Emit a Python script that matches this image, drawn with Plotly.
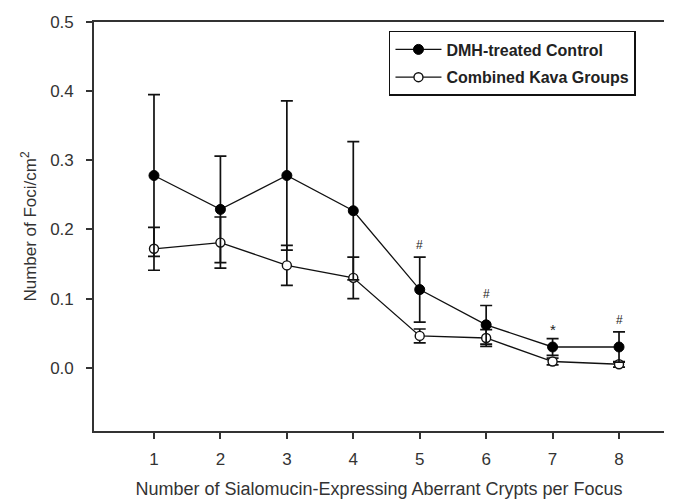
import plotly.graph_objects as go

crypts = [1, 2, 3, 4, 5, 6, 7, 8]
control_mean = [0.278, 0.229, 0.278, 0.227, 0.113, 0.062, 0.030, 0.030]
control_err = [0.117, 0.077, 0.108, 0.100, 0.047, 0.028, 0.012, 0.022]
kava_mean = [0.172, 0.181, 0.148, 0.130, 0.046, 0.043, 0.009, 0.005]
kava_err = [0.031, 0.037, 0.029, 0.030, 0.010, 0.012, 0.005, 0.004]
sig_marks = ["", "", "", "", "#", "#", "*", "#"]
y_ticks = [0.0, 0.1, 0.2, 0.3, 0.4, 0.5]

FONT = "Liberation Sans, Arial, sans-serif"

fig = go.Figure()
fig.add_trace(go.Scatter(
    x=crypts, y=kava_mean, name="Combined Kava Groups", mode="lines+markers",
    line=dict(color="#111", width=1.3),
    marker=dict(symbol="circle", size=9, color="white", line=dict(color="#111", width=1.4)),
    error_y=dict(type="data", array=kava_err, visible=True, color="#111", thickness=1.7, width=6),
    legendrank=2, legendgroup="b",
))
fig.add_trace(go.Scatter(
    x=crypts, y=control_mean, name="DMH-treated Control", mode="lines+markers",
    line=dict(color="#111", width=1.3),
    marker=dict(symbol="circle", size=10, color="black", line=dict(color="black", width=1)),
    error_y=dict(type="data", array=control_err, visible=True, color="#111", thickness=1.7, width=6),
    legendrank=1, legendgroup="a",
))

for xv, m, e, s in zip(crypts, control_mean, control_err, sig_marks):
    if s:
        fig.add_annotation(x=xv, y=m + e, text=s, showarrow=False, yanchor="bottom",
                           yshift=3 if s == "#" else -1,
                           font=dict(family=FONT, size=12 if s == "#" else 15, color="#222"))

fig.update_layout(
    width=675, height=503,
    margin=dict(l=94, r=11, t=22, b=72, autoexpand=False),
    paper_bgcolor="white", plot_bgcolor="white",
    font=dict(family=FONT, color="#333"),
    showlegend=True,
    legend=dict(x=0.5175, y=0.978, xanchor="left", yanchor="top",
                bordercolor="#111", borderwidth=1.5, bgcolor="white",
                font=dict(family=FONT, size=16, color="#222", weight="bold"),
                tracegroupgap=4, itemwidth=46),
    xaxis=dict(range=[0.097, 8.677], tickvals=crypts, ticks="outside", ticklen=6,
               tickwidth=1.5, tickcolor="#333", showline=True, linecolor="#333",
               linewidth=1.6, mirror=True, showgrid=False, zeroline=False,
               tickfont=dict(size=17, color="#333"), ticklabelstandoff=6,
               title=dict(text="Number of Sialomucin-Expressing Aberrant Crypts per Focus",
                          font=dict(size=18, color="#333"), standoff=14)),
    yaxis=dict(range=[-0.0915, 0.5], tickvals=y_ticks, tickformat=".1f", ticks="outside",
               ticklen=6, tickwidth=1.5, tickcolor="#333", showline=True, linecolor="#333",
               linewidth=1.6, mirror=False, showgrid=False, zeroline=False,
               tickfont=dict(size=17, color="#333"), ticklabelstandoff=9,
               title=dict(text="Number of Foci/cm<sup>2</sup>",
                          font=dict(size=17, color="#333"), standoff=9)),
)

fig.write_html("out.html", config={"displayModeBar": False},
               post_script="document.body.style.margin='0';document.body.style.overflow='hidden';"
                           "document.documentElement.style.overflow='hidden';")
